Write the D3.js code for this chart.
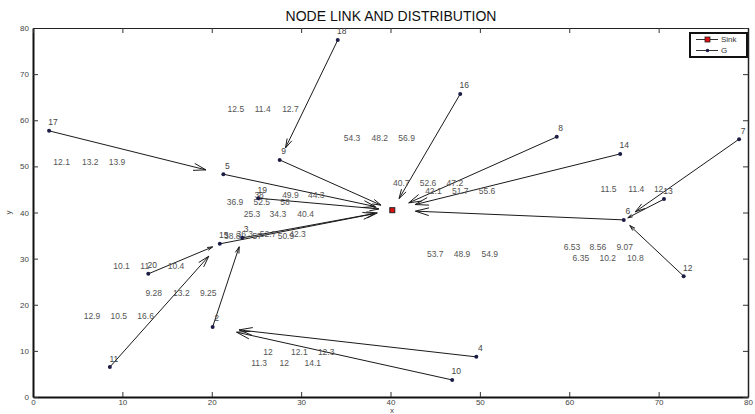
<!DOCTYPE html>
<html>
<head>
<meta charset="utf-8">
<script src="https://cdn.jsdelivr.net/npm/d3@7"></script>
<style>
  body { margin: 0; background: #fff; }
  text { font-family: "Liberation Sans Narrow", "Liberation Sans", "Open Sans", sans-serif; }
</style>
</head>
<body>
<div id="chart"></div>
<script>
// nodes (G) and sink positions
var nodeIds = [17, 5, 9, 18, 16, 8, 14, 7, 13, 6, 12, 4, 10, 2, 11, 20, 15, 3, 19];
var nodeX   = [1.8, 21.3, 27.6, 34.1, 47.8, 58.6, 65.7, 79.0, 70.6, 66.1, 72.8, 49.6, 46.9, 20.1, 8.6, 12.9, 20.9, 23.4, 25.2];
var nodeY   = [57.7, 48.3, 51.4, 77.4, 65.7, 56.4, 52.7, 55.9, 42.9, 38.4, 26.2, 8.7, 3.7, 15.2, 6.5, 26.7, 33.2, 34.5, 43.1];
var sinkX = 40.2, sinkY = 40.5;

// who sends to whom (0 = sink)
var linkFrom = [17, 5, 9, 18, 16, 8, 14, 7, 13, 6, 12, 4, 10, 2, 11, 20, 15, 3, 19];
var linkTo   = [5, 0, 0, 9, 0, 0, 0, 6, 6, 0, 6, 2, 2, 3, 15, 15, 0, 0, 0];
var quiverScale = 0.9;

// distribution values printed on the plot
var distText = ["12.5","11.4","12.7", "12.1","13.2","13.9", "54.3","48.2","56.9",
  "40.7","52.6","47.2", "42.1","51.7","55.6", "38","49.9","44.3", "36.9","52.5","58",
  "25.3","34.3","40.4", "38.8","57","50.9", "36.3","52.7","42.3", "53.7","48.9","54.9",
  "11.5","11.4","12", "6.53","8.56","9.07", "6.35","10.2","10.8", "10.1","11","10.4",
  "9.28","13.2","9.25", "12.9","10.5","16.6", "12","12.1","12.3", "11.3","12","14.1"];
var distX = [22.7,25.7,28.8, 3.2,6.4,9.4, 35.7,38.8,41.8,
  41.2,44.2,47.2, 44.8,47.8,50.8, 25.3,28.8,31.7, 22.6,25.6,28.2,
  24.5,27.4,30.5, 22.3,25.1,28.3, 23.7,26.3,29.6, 45.0,48.0,51.1,
  64.4,67.5,70.0, 60.3,63.2,66.2, 61.3,64.3,67.4, 9.9,12.5,16.0,
  13.5,16.6,19.6, 6.6,9.6,12.6, 26.3,29.8,32.8, 25.3,28.1,31.3];
var distY = [62.4,62.4,62.4, 51.0,51.0,51.0, 56.2,56.2,56.2,
  46.4,46.4,46.4, 44.7,44.7,44.7, 43.8,43.8,43.8, 42.3,42.3,42.3,
  39.6,39.6,39.6, 35.0,35.0,35.0, 35.4,35.4,35.4, 31.0,31.0,31.0,
  45.1,45.1,45.1, 32.5,32.5,32.5, 30.1,30.1,30.1, 28.4,28.4,28.4,
  22.6,22.6,22.6, 17.6,17.6,17.6, 9.8,9.8,9.8, 7.4,7.4,7.4];

var xTicks = [0, 10, 20, 30, 40, 50, 60, 70, 80];
var yTicks = [0, 10, 20, 30, 40, 50, 60, 70, 80];

var width = 755, height = 414;
var svg = d3.select("#chart").append("svg")
  .attr("width", width).attr("height", height);

var x = d3.scaleLinear().domain([0, 80]).range([33, 748]);
var y = d3.scaleLinear().domain([0, 80]).range([397, 28]);

var pos = {};
nodeIds.forEach(function(id, i) { pos[id] = [nodeX[i], nodeY[i]]; });
pos[0] = [sinkX, sinkY];

// title
svg.append("text").attr("x", 391).attr("y", 21)
  .attr("text-anchor", "middle").attr("font-size", 14).attr("fill", "#111")
  .text("NODE LINK AND DISTRIBUTION");

// axes, ticks pointing inward
var tickStyle = function(g) {
  g.selectAll("text").attr("fill", "#444").attr("font-size", 8);
  g.selectAll(".tick line").attr("stroke", "#333");
};
svg.append("g").attr("transform", "translate(0," + y(0) + ")")
  .call(d3.axisBottom(x).tickValues(xTicks).tickSize(-5).tickPadding(2).tickSizeOuter(0))
  .call(tickStyle)
  .call(function(g) { g.select(".domain").attr("stroke", "#111").attr("stroke-width", 2); });
svg.append("g").attr("transform", "translate(" + x(0) + ",0)")
  .call(d3.axisLeft(y).tickValues(yTicks).tickSize(-5).tickPadding(4).tickSizeOuter(0))
  .call(tickStyle)
  .call(function(g) { g.select(".domain").attr("stroke", "#111").attr("stroke-width", 2); });
svg.append("g").attr("transform", "translate(0," + y(80) + ")")
  .call(d3.axisTop(x).tickValues(xTicks).tickSize(-5).tickFormat("").tickSizeOuter(0))
  .call(tickStyle)
  .call(function(g) { g.select(".domain").attr("stroke", "#222").attr("stroke-width", 1.2); });
svg.append("g").attr("transform", "translate(" + x(80) + ",0)")
  .call(d3.axisRight(y).tickValues(yTicks).tickSize(-5).tickFormat("").tickSizeOuter(0))
  .call(tickStyle)
  .call(function(g) { g.select(".domain").attr("stroke", "#222").attr("stroke-width", 1.5); });

svg.append("text").attr("x", 392).attr("y", 413).attr("text-anchor", "middle")
  .attr("font-size", 8).attr("fill", "#444").text("x");
svg.append("text").attr("transform", "translate(11," + y(40) + ")rotate(-90)")
  .attr("text-anchor", "middle").attr("font-size", 8).attr("fill", "#444").text("y");

// arrows (quiver style, scaled 0.9)
var arrows = svg.append("g").attr("stroke", "#1a1a1a").attr("stroke-width", 1).attr("fill", "none");
linkFrom.forEach(function(f, i) {
  var a = pos[f], b = pos[linkTo[i]];
  var x1 = x(a[0]), y1 = y(a[1]);
  var x2 = x1 + (x(b[0]) - x1) * quiverScale, y2 = y1 + (y(b[1]) - y1) * quiverScale;
  var len = Math.sqrt((x2 - x1) * (x2 - x1) + (y2 - y1) * (y2 - y1));
  var ang = Math.atan2(y2 - y1, x2 - x1);
  var h = Math.max(5, Math.min(14, len * 0.08)), spread = 0.28;
  arrows.append("path").attr("d",
    "M" + x1 + "," + y1 + "L" + x2 + "," + y2 +
    "M" + (x2 - h * Math.cos(ang - spread)) + "," + (y2 - h * Math.sin(ang - spread)) +
    "L" + x2 + "," + y2 +
    "L" + (x2 - h * Math.cos(ang + spread)) + "," + (y2 - h * Math.sin(ang + spread)));
});

// distribution texts
svg.append("g").selectAll("text").data(distText).enter().append("text")
  .attr("x", function(d, i) { return x(distX[i]); })
  .attr("y", function(d, i) { return y(distY[i]) + 3; })
  .attr("text-anchor", "middle").attr("font-size", 8.5).attr("fill", "#555")
  .text(function(d) { return d; });

// nodes
svg.append("g").selectAll("circle").data(nodeIds).enter().append("circle")
  .attr("cx", function(d, i) { return x(nodeX[i]); })
  .attr("cy", function(d, i) { return y(nodeY[i]); })
  .attr("r", 2).attr("fill", "#1c1c44");
svg.append("g").selectAll("text").data(nodeIds).enter().append("text")
  .attr("x", function(d, i) { return x(nodeX[i]) + 4; })
  .attr("y", function(d, i) { return y(nodeY[i]) - 5.5; })
  .attr("text-anchor", "middle").attr("font-size", 8.5).attr("fill", "#444")
  .text(function(d) { return d; });

// sink
svg.append("rect").attr("x", x(sinkX) - 2.5).attr("y", y(sinkY) - 2.5)
  .attr("width", 5).attr("height", 5).attr("fill", "#e01010")
  .attr("stroke", "#222").attr("stroke-width", 1);

// legend
var lg = svg.append("g");
lg.append("rect").attr("x", 690).attr("y", 33).attr("width", 57).attr("height", 24)
  .attr("fill", "#fff").attr("stroke", "#111").attr("stroke-width", 2);
lg.append("line").attr("x1", 696).attr("x2", 718).attr("y1", 39.5).attr("y2", 39.5)
  .attr("stroke", "#333");
lg.append("rect").attr("x", 705).attr("y", 37).attr("width", 5).attr("height", 5)
  .attr("fill", "#e01010").attr("stroke", "#222").attr("stroke-width", 0.8);
lg.append("text").attr("x", 721).attr("y", 42).attr("font-size", 8).attr("fill", "#333").text("Sink");
lg.append("line").attr("x1", 696).attr("x2", 718).attr("y1", 50.5).attr("y2", 50.5)
  .attr("stroke", "#333");
lg.append("circle").attr("cx", 707.5).attr("cy", 50.5).attr("r", 1.8).attr("fill", "#1c1c44");
lg.append("text").attr("x", 721).attr("y", 53).attr("font-size", 8).attr("fill", "#333").text("G");
</script>
</body>
</html>
